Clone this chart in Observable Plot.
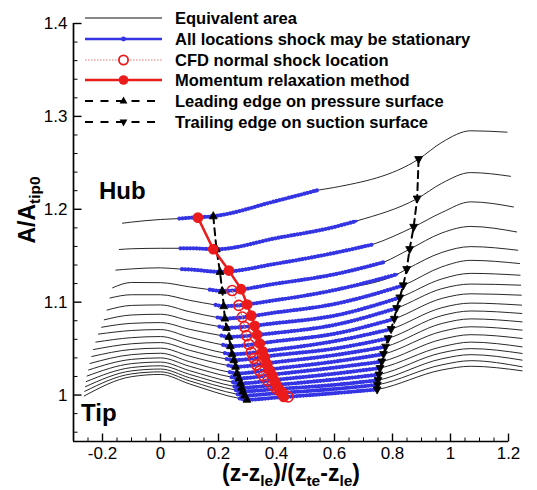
<!DOCTYPE html>
<html><head><meta charset="utf-8">
<script src="https://cdn.jsdelivr.net/npm/d3@7"></script>
<script src="https://cdn.jsdelivr.net/npm/@observablehq/plot@0.6"></script>
<style>
body{margin:0;background:#fff;}
#wrap{position:relative;width:537px;height:490px;font-family:"Liberation Sans",Arial,sans-serif;color:#000;}
#wrap svg.plot{position:absolute;left:0;top:0;}
.lg{position:absolute;left:85px;top:7.6px;}
.row{display:flex;align-items:center;height:20.8px;}
.row svg{width:77px;height:20px;margin-right:13px;flex:none;}
.row span{font-weight:bold;font-size:16.5px;white-space:nowrap;line-height:20px;}
.lab{position:absolute;font-weight:bold;white-space:nowrap;}
.big{font-size:24px;line-height:24px;}
.axl{font-size:23px;line-height:15px;}
.axl sub{font-size:15.5px;vertical-align:-5px;line-height:0;}
</style></head>
<body>
<div id="wrap"></div>
<script>
// ---- data ----
const curveId = [1,2,3,4,5,6,7,8,9,10,11,12,13,14,15,16,17,18,19];
const startX = [-0.131,-0.142,-0.154,-0.165,-0.174,-0.184,-0.194,-0.203,-0.214,-0.223,-0.231,-0.237,-0.243,-0.248,-0.253,-0.256,-0.259,-0.261,-0.263];
const startY = [1.185,1.1567,1.1345,1.1155,1.1045,1.0915,1.081,1.073,1.0656,1.057,1.049,1.0415,1.034,1.027,1.0205,1.0145,1.009,1.004,0.999];
const stationX = [-0.1, 0, 0.1, 0.4, 0.6, 0.97, 1.07];
const yAtM01 = [1.1862,1.1575,1.1358,1.1212,1.108,1.0965,1.0862,1.0772,1.0695,1.0618,1.0552,1.0491,1.0435,1.0384,1.0338,1.0296,1.026,1.0228,1.0198];
const yAt0   = [1.189,1.158,1.137,1.121,1.108,1.097,1.087,1.078,1.0705,1.063,1.0565,1.0505,1.045,1.040,1.0355,1.0315,1.028,1.025,1.0222];
const yAt01  = [1.1908,1.158,1.1352,1.1165,1.102,1.0897,1.080,1.0708,1.0623,1.0545,1.0482,1.0419,1.0359,1.031,1.0263,1.0223,1.0186,1.0153,1.012];
const yAt04  = [1.209,1.169,1.1415,1.120,1.1023,1.089,1.0775,1.067,1.058,1.049,1.043,1.0355,1.0285,1.0225,1.0165,1.011,1.0065,1.002,0.9973];
const yAt06  = [1.2235,1.181,1.153,1.130,1.113,1.098,1.0855,1.0755,1.066,1.058,1.050,1.043,1.036,1.0295,1.023,1.0168,1.011,1.0065,1.002];
const yAt097 = [1.272,1.228,1.1965,1.1745,1.1535,1.138,1.125,1.1145,1.104,1.094,1.0855,1.077,1.0685,1.060,1.052,1.0455,1.039,1.0325,1.027];
const humpY  = [1.2845,1.2395,1.208,1.1815,1.1598,1.145,1.131,1.1195,1.109,1.099,1.0905,1.082,1.0735,1.065,1.057,1.050,1.0435,1.037,1.031];
const endX = [1.195,1.207,1.217,1.228,1.232,1.238,1.24,1.242,1.244,1.245,1.246,1.247,1.247,1.247,1.247,1.247,1.247,1.247,1.247];
const endY = [1.283,1.2355,1.2025,1.1756,1.1559,1.1416,1.129,1.1183,1.1075,1.0968,1.0878,1.0788,1.0699,1.0609,1.0519,1.0448,1.0376,1.0304,1.0261];
// shock-stationary (blue) range
const blueStartX = [0.065,0.069,0.074,0.17,0.19,0.197,0.203,0.21,0.216,0.222,0.228,0.234,0.239,0.245,0.25,0.255,0.26,0.266,0.273];
const blueStartY = [1.19,1.158,1.1355,1.1135,1.097,1.0835,1.0737,1.064,1.054,1.0452,1.0388,1.0318,1.0246,1.0193,1.0139,1.0093,1.0053,1.0008,0.9963];
const blueEndX = [0.54,0.676,0.73,0.77,0.816,null,null,null,null,null,null,null,null,null,null,null,null,null,null];
const blueEndY = [1.2204,1.1874,1.162,1.143,1.130,null,null,null,null,null,null,null,null,null,null,null,null,null,null];
// leading edge (pressure surface) and trailing edge (suction surface)
const leX = [0.182,0.193,0.205,0.213,0.218,0.222,0.228,0.236,0.241,0.247,0.253,0.259,0.264,0.27,0.276,0.28,0.284,0.29,0.298];
const leY = [1.1925,1.157,1.1326,1.112,1.0957,1.0824,1.0724,1.0627,1.0527,1.044,1.0376,1.0305,1.0233,1.018,1.0126,1.008,1.004,0.9995,0.995];
const teX = [0.89,0.885,0.873,0.859,0.849,0.837,0.825,0.814,0.806,0.795,0.785,0.776,0.769,0.763,0.757,0.753,0.75,0.748,0.747];
const teY = [1.254,1.2115,1.181,1.157,1.1355,1.118,1.105,1.0935,1.082,1.071,1.061,1.052,1.044,1.036,1.029,1.022,1.016,1.011,1.006];
// momentum relaxation method
const mrmX = [0.129,0.182,0.236,0.278,0.299,0.313,0.325,0.333,0.342,0.352,0.36,0.368,0.376,0.384,0.392,0.40,0.408,0.416,0.425];
const mrmY = [1.191,1.157,1.134,1.114,1.0975,1.0855,1.0745,1.065,1.0555,1.047,1.0405,1.0335,1.027,1.0215,1.016,1.011,1.0067,1.0023,0.998];
// CFD normal shock location (curves 4..19)
const cfdX = [0.247,0.27,0.282,0.29,0.297,0.305,0.313,0.322,0.331,0.342,0.355,0.37,0.385,0.40,0.42,0.44];
const cfdY = [1.1125,1.0965,1.084,1.0735,1.064,1.0545,1.046,1.0395,1.0325,1.026,1.0205,1.0155,1.0107,1.0065,1.0023,0.998];
// ticks and labels
const xMajorTicks = [-0.2,0,0.2,0.4,0.6,0.8,1,1.2];
const yMajorTicks = [1,1.1,1.2,1.3,1.4];
const xDomain = [-0.3, 1.2];
const yDomain = [0.95, 1.4];
const legendLabels = ["Equivalent area","All locations shock may be stationary","CFD normal shock location","Momentum relaxation method","Leading edge on pressure surface","Trailing edge on suction surface"];

// ---- build tables ----
const curvePts = [], bluePts = [];
curveId.forEach((id, i) => {
  const st = [yAtM01, yAt0, yAt01, yAt04, yAt06, yAt097, humpY];
  const pts = [[startX[i], startY[i]], [blueStartX[i], blueStartY[i]], [leX[i], leY[i]], [teX[i], teY[i]], [endX[i], endY[i]]];
  stationX.forEach((sx, k) => pts.push([sx, st[k][i]]));
  if (blueEndX[i] != null) pts.push([blueEndX[i], blueEndY[i]]);
  pts.sort((a, b) => a[0] - b[0]);
  const bEnd = blueEndX[i] != null ? blueEndX[i] : teX[i];
  pts.forEach(p => {
    curvePts.push({id, x: p[0], y: p[1]});
    if (p[0] >= blueStartX[i] - 1e-9 && p[0] <= bEnd + 1e-9) bluePts.push({id, x: p[0], y: p[1]});
  });
});
const le = curveId.map((id, i) => ({id, x: leX[i], y: leY[i]}));
const te = curveId.map((id, i) => ({id, x: teX[i], y: teY[i]}));
const mrm = curveId.map((id, i) => ({id, x: mrmX[i], y: mrmY[i]}));
const cfd = cfdX.map((x, i) => ({x, y: cfdY[i]}));

const xMinor = d3.range(-5, 24).filter(k => k % 4 !== 0).map(k => k * 0.05);
const yMinor = d3.range(48, 70).filter(k => k % 5 !== 0).map(k => k * 0.02);

const BLUE = "#3434e4", RED = "#ec1b1b";
const tickSym = (dx, dy) => ({draw(c) { c.moveTo(0, 0); c.lineTo(dx, dy); }});
const triUp = {draw(c) { c.moveTo(0, -4.6); c.lineTo(3.9, 2.6); c.lineTo(-3.9, 2.6); c.closePath(); }};
const triDown = {draw(c) { c.moveTo(0, 4.6); c.lineTo(3.9, -2.6); c.lineTo(-3.9, -2.6); c.closePath(); }};

const plot = Plot.plot({
  width: 537, height: 490,
  marginLeft: 73, marginRight: 29, marginTop: 23, marginBottom: 49,
  x: {domain: xDomain},
  y: {domain: yDomain},
  style: {fontFamily: "'Liberation Sans', Arial, sans-serif", fontSize: "17px", background: "transparent", color: "black", overflow: "visible"},
  marks: [
    Plot.line(curvePts, {x: "x", y: "y", z: "id", stroke: "#111", strokeWidth: 0.9, curve: "monotone-x"}),
    Plot.line(bluePts, {x: "x", y: "y", z: "id", stroke: BLUE, strokeWidth: 2.4, curve: "monotone-x"}),
    Plot.line(bluePts, {x: "x", y: "y", z: "id", stroke: BLUE, strokeWidth: 4.2, strokeDasharray: "0 3.2", strokeLinecap: "round", curve: "monotone-x"}),
    Plot.line(le, {x: "x", y: "y", stroke: "black", strokeWidth: 2, strokeDasharray: "7,5"}),
    Plot.line(te, {x: "x", y: "y", stroke: "black", strokeWidth: 2, strokeDasharray: "7,5"}),
    Plot.dot(le, {x: "x", y: "y", symbol: triUp, fill: "black", stroke: "black", strokeWidth: 0.8}),
    Plot.dot(te, {x: "x", y: "y", symbol: triDown, fill: "black", stroke: "black", strokeWidth: 0.8}),
    Plot.line(cfd, {x: "x", y: "y", stroke: "#e07070", strokeWidth: 1, strokeDasharray: "1.5,2"}),
    Plot.line(mrm, {x: "x", y: "y", stroke: RED, strokeWidth: 2.5}),
    Plot.dot(cfd, {x: "x", y: "y", r: 5, stroke: RED, strokeWidth: 1.6, fill: "none"}),
    Plot.dot(mrm, {x: "x", y: "y", r: 4.6, fill: RED, stroke: RED}),
    Plot.ruleX([xDomain[0]], {stroke: "black", strokeWidth: 1.7}),
    Plot.ruleY([yDomain[0]], {stroke: "black", strokeWidth: 1.7}),
    Plot.dot(xMajorTicks, {x: d => d, y: yDomain[0], symbol: tickSym(0, -8), stroke: "black", fill: "none", strokeWidth: 1.4}),
    Plot.dot(xMinor, {x: d => d, y: yDomain[0], symbol: tickSym(0, -4), stroke: "black", fill: "none", strokeWidth: 1}),
    Plot.dot(yMajorTicks, {y: d => d, x: xDomain[0], symbol: tickSym(8, 0), stroke: "black", fill: "none", strokeWidth: 1.4}),
    Plot.dot(yMinor, {y: d => d, x: xDomain[0], symbol: tickSym(4, 0), stroke: "black", fill: "none", strokeWidth: 1}),
    Plot.axisX({ticks: xMajorTicks, tickSize: 0, tickPadding: 5, tickFormat: d => String(d), label: null}),
    Plot.axisY({ticks: yMajorTicks, tickSize: 0, tickPadding: 6, tickFormat: d => String(d), label: null})
  ]
});
plot.classList.add("plot");
const wrap = document.getElementById("wrap");
wrap.appendChild(plot);

// ---- legend (inside plot area, top) ----
const sw = [
  `<line x1="0" y1="10" x2="77" y2="10" stroke="#111" stroke-width="1"/>`,
  `<line x1="0" y1="10" x2="77" y2="10" stroke="${BLUE}" stroke-width="2.6"/><circle cx="38.5" cy="10" r="2.4" fill="${BLUE}"/>`,
  `<line x1="0" y1="10" x2="77" y2="10" stroke="#d77" stroke-width="1.2" stroke-dasharray="1.5,1.5"/><circle cx="38.5" cy="10" r="4.6" fill="white" stroke="${RED}" stroke-width="1.8"/>`,
  `<line x1="0" y1="10" x2="77" y2="10" stroke="${RED}" stroke-width="2.6"/><circle cx="38.5" cy="10" r="4.8" fill="${RED}"/>`,
  `<line x1="0" y1="10" x2="77" y2="10" stroke="black" stroke-width="2" stroke-dasharray="8,7.5"/><path d="M38.5,5.4L42.4,12.6L34.6,12.6Z" fill="black"/>`,
  `<line x1="0" y1="10" x2="77" y2="10" stroke="black" stroke-width="2" stroke-dasharray="8,7.5"/><path d="M38.5,14.6L42.4,7.4L34.6,7.4Z" fill="black"/>`
];
const lg = document.createElement("div");
lg.className = "lg";
lg.innerHTML = legendLabels.map((t, i) => `<div class="row"><svg viewBox="0 0 77 20">${sw[i]}</svg><span>${t}</span></div>`).join("");
wrap.appendChild(lg);

// ---- text labels ----
const addLab = (html, cls, css) => { const d = document.createElement("div"); d.className = "lab " + cls; d.innerHTML = html; Object.assign(d.style, css); wrap.appendChild(d); };
addLab("Hub", "big", {left: "99px", top: "179px"});
addLab("Tip", "big", {left: "81px", top: "401px"});
addLab("(z-z<sub>le</sub>)/(z<sub>te</sub>-z<sub>le</sub>)", "axl", {left: "291px", top: "466px", transform: "translateX(-50%)"});
addLab("A/A<sub>tip0</sub>", "axl", {left: "27px", top: "210px", transform: "translate(-50%,-50%) rotate(-90deg)"});
</script>
</body></html>
